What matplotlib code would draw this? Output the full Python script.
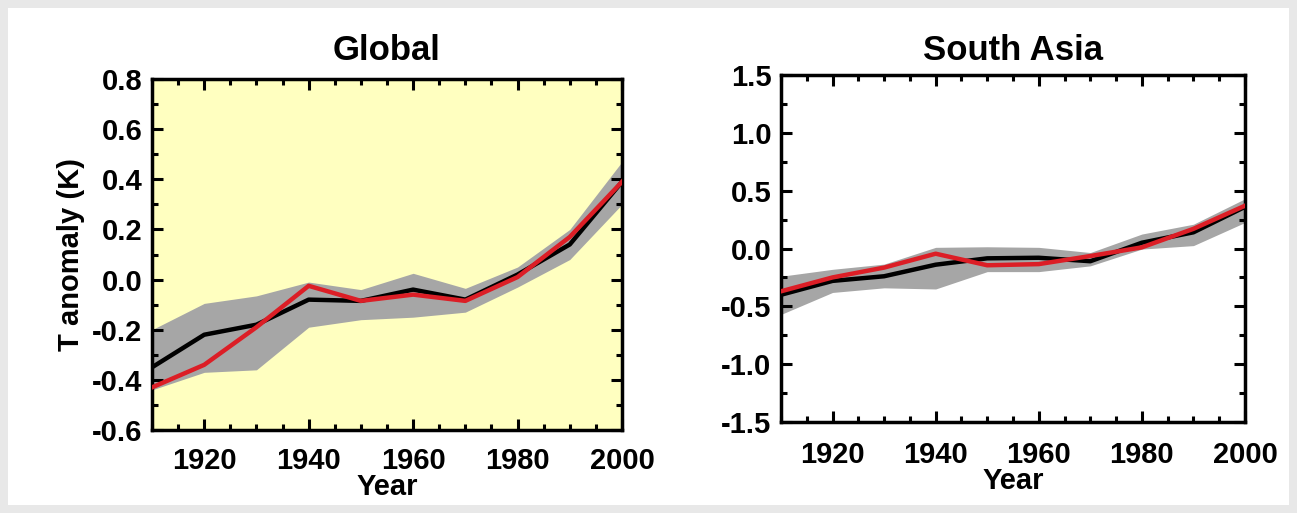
import matplotlib
matplotlib.use('Agg')
import matplotlib.pyplot as plt
from matplotlib.patches import Rectangle
from matplotlib.ticker import MultipleLocator
import numpy as np

plt.rcParams['font.family'] = ['Liberation Sans', 'DejaVu Sans']
plt.rcParams['font.weight'] = 'bold'

years = [1910, 1920, 1930, 1940, 1950, 1960, 1970, 1980, 1990, 2000]

# Global
glob_model = [-0.35, -0.22, -0.18, -0.08, -0.085, -0.04, -0.08, 0.02, 0.14, 0.39]
glob_obs = [-0.43, -0.34, -0.19, -0.025, -0.085, -0.06, -0.085, 0.01, 0.17, 0.39]
glob_hi = [-0.20, -0.095, -0.065, -0.01, -0.04, 0.025, -0.035, 0.05, 0.20, 0.47]
glob_lo = [-0.44, -0.37, -0.36, -0.19, -0.16, -0.15, -0.13, -0.03, 0.08, 0.30]

# South Asia
sa_model = [-0.40, -0.28, -0.24, -0.14, -0.085, -0.08, -0.11, 0.05, 0.14, 0.36]
sa_obs = [-0.37, -0.25, -0.165, -0.045, -0.145, -0.135, -0.065, 0.01, 0.17, 0.37]
sa_hi = [-0.24, -0.18, -0.135, 0.01, 0.015, 0.01, -0.035, 0.125, 0.21, 0.43]
sa_lo = [-0.57, -0.38, -0.34, -0.35, -0.20, -0.20, -0.15, -0.005, 0.025, 0.225]

fig = plt.figure(figsize=(12.97, 5.13), dpi=100)
fig.patch.set_facecolor('#e8e8e8')
fig.patches.append(Rectangle((8 / 1297, 8 / 513), 1 - 16 / 1297, 1 - 16 / 513,
                             transform=fig.transFigure, facecolor='white',
                             edgecolor='none', zorder=-10))

ax1 = fig.add_axes([152 / 1297, 83 / 513, 470 / 1297, 351 / 513])
ax2 = fig.add_axes([781 / 1297, 91 / 513, 464 / 1297, 347 / 513])


def style(ax, ylim, major, minor, xpad):
    ax.set_xlim(1910, 2000)
    ax.set_ylim(*ylim)
    ax.xaxis.set_major_locator(MultipleLocator(20))
    ax.xaxis.set_minor_locator(MultipleLocator(5))
    ax.yaxis.set_major_locator(MultipleLocator(major))
    ax.yaxis.set_minor_locator(MultipleLocator(minor))
    ax.tick_params(which='both', direction='in', top=True, right=True, width=2.2)
    ax.tick_params(which='major', length=8)
    ax.tick_params(which='minor', length=4)
    ax.tick_params(axis='x', labelsize=21, pad=xpad)
    ax.tick_params(axis='y', labelsize=21, pad=7)
    for s in ax.spines.values():
        s.set_linewidth(2.5)
    for lbl in ax.get_xticklabels() + ax.get_yticklabels():
        lbl.set_fontweight('bold')


def panel(ax, model, obs, hi, lo):
    ax.fill_between(years, lo, hi, color='#a6a6a6', linewidth=0, zorder=1)
    ax.plot(years, model, color='black', linewidth=3.2, zorder=2)
    ax.plot(years, obs, color='#dc1e26', linewidth=3.2, zorder=3)


panel(ax1, glob_model, glob_obs, glob_hi, glob_lo)
ax1.set_facecolor('#ffffc0')
style(ax1, (-0.6, 0.8), 0.2, 0.1, 12)
ax1.yaxis.set_major_formatter(plt.FuncFormatter(lambda v, p: f'{v:.1f}'))
ax1.set_xticks([1920, 1940, 1960, 1980, 2000])
ax1.set_title('Global', fontsize=25, fontweight='bold', pad=14)
ax1.set_xlabel('Year', fontsize=21, fontweight='bold', labelpad=-1)
ax1.set_ylabel('T anomaly (K)', fontsize=21, fontweight='bold', labelpad=5)

panel(ax2, sa_model, sa_obs, sa_hi, sa_lo)
style(ax2, (-1.5, 1.5), 0.5, 0.25, 14)
ax2.yaxis.set_major_formatter(plt.FuncFormatter(lambda v, p: f'{v:.1f}'))
ax2.set_xticks([1920, 1940, 1960, 1980, 2000])
ax2.set_title('South Asia', fontsize=25, fontweight='bold', pad=11)
ax2.set_xlabel('Year', fontsize=21, fontweight='bold', labelpad=-2)

fig.savefig('out.png', dpi=100, facecolor=fig.get_facecolor())
